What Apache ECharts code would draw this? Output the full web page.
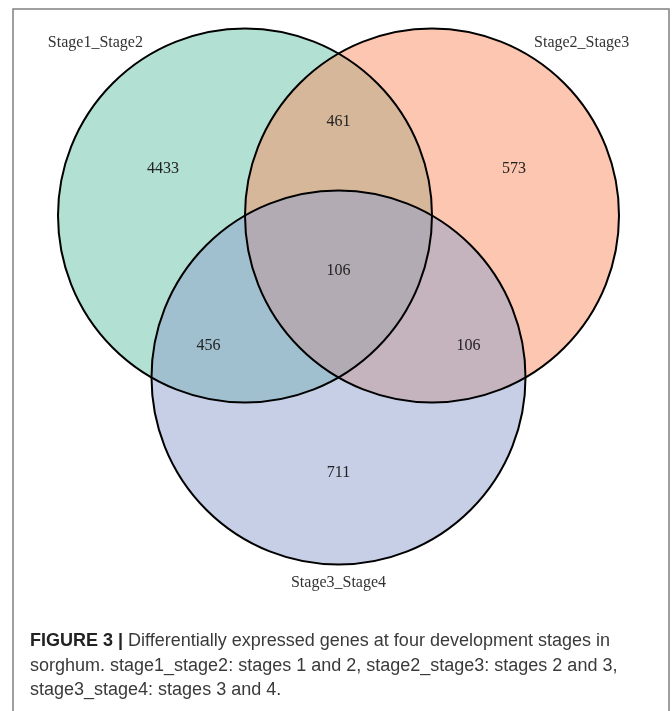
<!DOCTYPE html>
<html>
<head>
<meta charset="utf-8">
<script src="https://cdn.jsdelivr.net/npm/echarts@6/dist/echarts.min.js"></script>
<style>
html,body{margin:0;padding:0;background:#fff;}
#main{width:672px;height:711px;}
</style>
</head>
<body>
<div id="main"></div>
<script>
// ---- data ----
const setNames = ['Stage1_Stage2', 'Stage2_Stage3', 'Stage3_Stage4'];
const circleX = [-0.5, 0.5, 0];
const circleY = [0, 0, -0.866];
const circleR = [1, 1, 1];
const setLabelX = [-1.3, 1.3, 0];
const setLabelY = [0.922, 0.922, -1.965];
const regionCounts = [4433, 461, 573, 106, 456, 106, 711];
const regionX = [-0.939, 0, 0.939, 0, -0.695, 0.695, 0];
const regionY = [0.249, 0.5, 0.249, -0.297, -0.698, -0.698, -1.377];
const captionBold = 'FIGURE 3 |';
const captionLines = [
  ' Differentially expressed genes at four development stages in',
  'sorghum. stage1_stage2: stages 1 and 2, stage2_stage3: stages 2 and 3,',
  'stage3_stage4: stages 3 and 4.'
];

// ---- styles ----
const fillColors = ['#66C2A5', '#FC8D62', '#8DA0CB'];
const serif = '"Liberation Serif", "DejaVu Serif", serif';
const sans = '"Liberation Sans", Arial, sans-serif';

const circleData = circleX.map((x, i) => [x, circleY[i], circleR[i]]);
const setLabelData = setNames.map((n, i) => [setLabelX[i], setLabelY[i], n]);
const regionData = regionCounts.map((c, i) => [regionX[i], regionY[i], String(c)]);

const chart = echarts.init(document.getElementById('main'), null, {renderer: 'canvas'});

function circleRender(fill) {
  return function (params, api) {
    const c = api.coord([api.value(0), api.value(1)]);
    const r = api.size([api.value(2), 0])[0];
    return {
      type: 'circle',
      shape: {cx: c[0], cy: c[1], r: r},
      style: fill
        ? {fill: fillColors[params.dataIndex], opacity: 0.5, stroke: null}
        : {fill: null, stroke: '#000', lineWidth: 2}
    };
  };
}

function textRender(color) {
  return function (params, api) {
    const c = api.coord([api.value(0), api.value(1)]);
    return {
      type: 'text',
      x: c[0], y: c[1],
      style: {
        text: api.value(2),
        fontFamily: serif,
        fontSize: 16,
        fill: color,
        align: 'center',
        verticalAlign: 'middle'
      }
    };
  };
}

chart.setOption({
  animation: false,
  backgroundColor: '#fff',
  grid: {left: 58, top: 28.5, width: 561, height: 561},
  xAxis: {type: 'value', min: -1.5, max: 1.5, show: false},
  yAxis: {type: 'value', min: -2, max: 1, show: false},
  title: {
    left: 30,
    top: 629,
    padding: 0,
    text: '{b|' + captionBold + '}' + captionLines.join('\n'),
    textStyle: {
      fontFamily: sans,
      fontSize: 18,
      fontWeight: 'normal',
      color: '#3a3a3a',
      lineHeight: 24.5,
      rich: {
        b: {fontFamily: sans, fontSize: 18, fontWeight: 'bold', color: '#222', lineHeight: 24.5}
      }
    }
  },
  graphic: [{
    type: 'polyline',
    shape: {points: [[13, 711], [13, 9], [669, 9], [669, 711]]},
    style: {stroke: '#808080', lineWidth: 1.5, fill: null},
    silent: true
  }],
  series: [
    {type: 'custom', renderItem: circleRender(true), data: circleData, z: 1},
    {type: 'custom', renderItem: circleRender(false), data: circleData, z: 2},
    {type: 'custom', renderItem: textRender('#222'), data: regionData, z: 3},
    {type: 'custom', renderItem: textRender('#333'), data: setLabelData, z: 3}
  ]
});
</script>
</body>
</html>
